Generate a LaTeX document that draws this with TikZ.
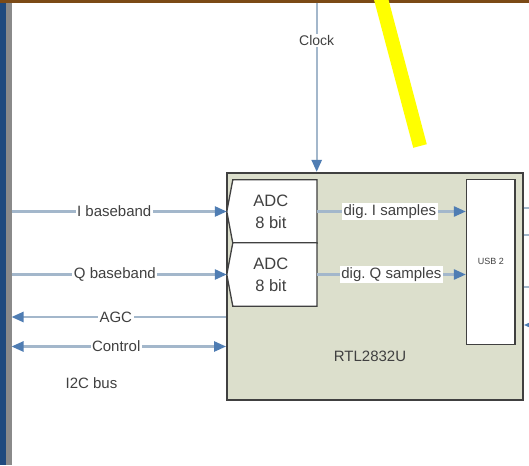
\documentclass[tikz,border=0pt]{standalone}
\usepackage{fontspec}
\setmainfont{Liberation Sans}
\frenchspacing
\usetikzlibrary{arrows.meta,positioning}
\definecolor{wire}{HTML}{A3B7CB}
\definecolor{tipblue}{HTML}{4F7DB3}
\definecolor{chipfill}{HTML}{DCDFCC}
\definecolor{ink}{HTML}{404040}
\definecolor{frameblue}{HTML}{1F4A7E}
\definecolor{framegrey}{HTML}{8A8A8A}
\definecolor{framebrown}{HTML}{7B4A16}
\definecolor{marker}{HTML}{FFFF00}
\tikzset{
  sig/.style={draw=wire, line width=2.4pt, -{Triangle[length=12pt,width=10pt,color=tipblue]}},
  sigboth/.style={sig, {Triangle[length=12pt,width=10pt,color=tipblue]}-{Triangle[length=12pt,width=10pt,color=tipblue]}},
  lbl/.style={fill=white, text=ink, inner sep=1.5pt, font=\fontsize{15}{15}\selectfont},
  adcbox/.style={draw=ink, line width=1.3pt, fill=white},
}
\begin{document}
\begin{tikzpicture}[x=1pt,y=-1pt]
  \useasboundingbox (0,0) rectangle (529,465);
  \fill[white] (0,0) rectangle (529,465);
  \fill[frameblue] (0,0) rectangle (6,465);
  \fill[framegrey] (6,0) rectangle (11.5,465);
  \fill[framebrown] (0,0) rectangle (529,3);
  % the chip and its blocks
  \node[draw=ink, line width=1.8pt, fill=chipfill, minimum width=296pt, minimum height=227pt,
    inner sep=0pt] (chip) at (375,286.3) {};
  \node[minimum width=89.7pt, minimum height=63pt, inner sep=0pt] (adci) at (271.85,211.5) {};
  \node[minimum width=89.7pt, minimum height=63pt, inner sep=0pt] (adcq) at (271.85,274.5) {};
  \foreach \n in {adci,adcq}
    \draw[adcbox] ([xshift=6pt]\n.north west) -- (\n.north east) -- (\n.south east)
      -- ([xshift=6pt]\n.south west) -- (\n.west) -- cycle;
  \foreach \n in {adci,adcq}
    \node[text=ink, align=center, font=\fontsize{16.5}{22}\selectfont] at ([xshift=-1pt]\n.center) {ADC\\8 bit};
  \node[draw=ink, line width=1.3pt, fill=white, minimum width=48.5pt, minimum height=165pt,
    inner sep=0pt, text=ink, font=\fontsize{9}{9}\selectfont] (usb) at (490.8,261.7) {USB 2};
  \node[text=ink, font=\fontsize{15}{15}\selectfont] (rtl) at (370,356) {RTL2832U};
  \node[text=ink, font=\fontsize{15}{15}\selectfont] (i2c) at (91.5,383) {I2C bus};
  % signals
  \coordinate (iin) at (11.5,211.5);
  \coordinate (qin) at (11.5,274.5);
  \coordinate (agcout) at (11.5,317);
  \coordinate (ctlout) at (11.5,346.5);
  \coordinate (clk) at (316.7,3);
  \draw[sig] (iin) -- (adci.west) node[lbl, pos=0.477] {I baseband};
  \draw[sig] (qin) -- (adcq.west) node[lbl, pos=0.48] {Q baseband};
  \draw[sig] (agcout -| chip.west) -- (agcout) node[lbl, pos=0.514] {AGC};
  \draw[sigboth] (ctlout) -- (ctlout -| chip.west) node[lbl, pos=0.488] {Control};
  \draw[sig] (clk) -- (clk |- chip.north) node[lbl, pos=0.22, font=\fontsize{14}{14}\selectfont] {Clock};
  \draw[sig] (adci.east) -- (adci.east -| usb.west) node[lbl, pos=0.49] {dig. I samples};
  \draw[sig] (adcq.east) -- (adcq.east -| usb.west) node[lbl, pos=0.5] {dig. Q samples};
  \foreach \y in {208,235,287}
    \draw[wire, line width=2.4pt] (chip.east |- 0,\y) -- ++(8,0);
  \coordinate (usbin) at (540,325);
  \draw[sig] (usbin) -- (usbin -| chip.east);
  % marker stroke
  \draw[marker, line width=14pt] (380,-5) -- (420,146);
\end{tikzpicture}
\end{document}
